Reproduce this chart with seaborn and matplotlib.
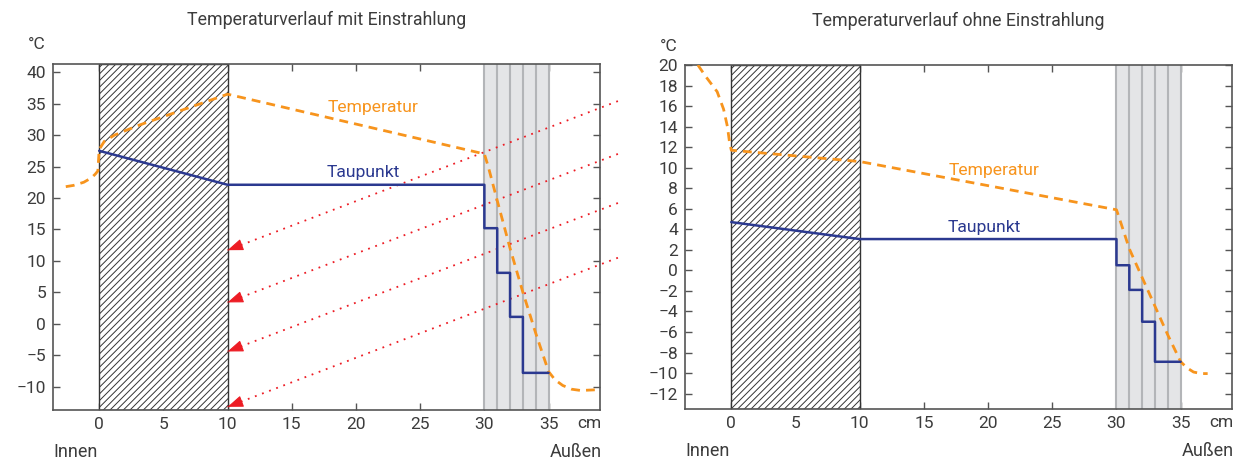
import matplotlib
matplotlib.use("Agg")
import matplotlib.pyplot as plt
import pandas as pd
import seaborn as sns

# ---- wall build-up (cm, measured from the inside face) ----
masonry_span = (0, 10)
layer_edges = [30, 31, 32, 33, 34, 35]
x_ticks = [0, 5, 10, 15, 20, 25, 30, 35]

# ---- panel 1: with solar radiation ----
temp_sun_x = [-2.6, -2.0, -1.2, -0.6, -0.3, -0.1, 0.0, 0.4, 1.2, 3.0, 10.0,
              30.0, 30.3, 31.0, 32.0, 33.0, 34.0, 35.0, 35.5, 36.1, 36.8, 37.5, 38.6]
temp_sun_y = [21.8, 22.0, 22.5, 23.2, 23.8, 24.3, 27.7, 29.0, 30.0, 31.5, 36.5,
              27.0, 25.0, 19.6, 12.0, 5.0, -1.5, -7.6, -8.9, -9.8, -10.4, -10.6, -10.5]
dew_sun_wall = [27.5, 22.1]
dew_sun_steps = [15.2, 8.1, 1.1, -7.8]
sun_ray_start_y = [35.4, 27.0, 19.2, 10.5]
sun_ray_end_y = [11.7, 3.4, -4.4, -13.2]
sun_ray_x = (40.4, 10.0)
y_ticks_sun = [-10, -5, 0, 5, 10, 15, 20, 25, 30, 35, 40]

# ---- panel 2: without solar radiation ----
temp_shade_x = [-2.6, -2.0, -1.1, -0.6, -0.3, -0.15, 0.0, 10.0, 30.0, 30.4, 31.0,
                32.0, 33.0, 34.0, 35.0, 35.5, 36.0, 36.6, 37.1]
temp_shade_y = [20.0, 18.9, 17.4, 15.7, 14.0, 12.6, 11.7, 10.6, 5.9, 4.4, 2.1,
                -0.7, -3.5, -6.3, -8.9, -9.5, -9.9, -10.05, -10.05]
dew_shade_wall = [4.7, 3.05]
dew_shade_steps = [0.5, -1.9, -5.0, -8.9]
y_ticks_shade = list(range(-12, 21, 2))

# step edges of the dew point inside the outer layers
dew_step_edges = [30, 31, 32, 33, 35]

ORANGE = "#f7941d"
BLUE = "#2b3990"
RED = "#ed1c24"
GREY_FILL = "#e4e5e7"
GREY_LINE = "#b3b5b8"
TEXT = "#3c3c3c"
SPINE = "#555555"

sns.set_theme(style="ticks")
plt.rcParams["font.family"] = ["Roboto", "DejaVu Sans"]
plt.rcParams["hatch.linewidth"] = 0.7
plt.rcParams["hatch.color"] = "#333333"


def dew_path(wall, steps):
    xs = [masonry_span[0], masonry_span[1], dew_step_edges[0]]
    ys = [wall[0], wall[1], wall[1]]
    for i, v in enumerate(steps):
        xs += [dew_step_edges[i], dew_step_edges[i + 1]]
        ys += [v, v]
    return pd.DataFrame({"x": xs, "y": ys})


def draw_panel(ax, title, temp_x, temp_y, dew_wall, dew_steps, ylim, yticks,
               temp_label_xy, dew_label_xy):
    # masonry (hatched) and outer layers (grey)
    ax.axvspan(*masonry_span, facecolor="white", edgecolor="#333333",
               hatch="/////", linewidth=1.0, zorder=1)
    ax.axvspan(layer_edges[0], layer_edges[-1], facecolor=GREY_FILL,
               edgecolor="none", zorder=1)
    for e in layer_edges:
        ax.axvline(e, color=GREY_LINE, lw=1.5, zorder=1.5)

    temp = pd.DataFrame({"x": temp_x, "y": temp_y})
    sns.lineplot(data=temp, x="x", y="y", ax=ax, color=ORANGE, lw=2.0,
                 linestyle=(0, (3.2, 2.2)), sort=False, estimator=None, zorder=4)
    sns.lineplot(data=dew_path(dew_wall, dew_steps), x="x", y="y", ax=ax,
                 color=BLUE, lw=1.8, sort=False, estimator=None, zorder=5)

    ax.text(*temp_label_xy, "Temperatur", color=ORANGE, fontsize=12.6,
            ha="center", va="center", zorder=6)
    ax.text(*dew_label_xy, "Taupunkt", color=BLUE, fontsize=12.6,
            ha="center", va="center", zorder=6)

    ax.set_xlim(-3.6, 39)
    ax.set_ylim(*ylim)
    ax.set_xticks(x_ticks)
    ax.set_yticks(yticks)
    ax.set_xlabel("")
    ax.set_ylabel("")
    ax.tick_params(direction="in", length=5, width=1, color=SPINE,
                   top=True, right=True, labelsize=12.5, labelcolor=TEXT, pad=5)
    for s in ax.spines.values():
        s.set_visible(True)
        s.set_color(SPINE)
        s.set_linewidth(1.2)

    ax.text(0.5, 1.127, title, transform=ax.transAxes, ha="center",
            va="center", fontsize=12.8, color=TEXT)
    ax.text(-0.03, 1.055, "°C", transform=ax.transAxes, ha="center",
            va="center", fontsize=12.5, color=TEXT)
    ax.text(38.2, -0.038, "cm", transform=ax.get_xaxis_transform(),
            ha="center", va="center", fontsize=12.5, color=TEXT)
    ax.text(0.0, -0.121, "Innen", transform=ax.transAxes, ha="left",
            va="center", fontsize=13, color=TEXT)
    ax.text(1.004, -0.121, "Außen", transform=ax.transAxes, ha="right",
            va="center", fontsize=13, color=TEXT)


fig = plt.figure(figsize=(12.37, 4.62), dpi=100)
ax1 = fig.add_axes([0.0428, 0.1126, 0.4422, 0.7489])
ax2 = fig.add_axes([0.5538, 0.1147, 0.4422, 0.7446])

draw_panel(ax1, "Temperaturverlauf mit Einstrahlung", temp_sun_x, temp_sun_y,
           dew_sun_wall, dew_sun_steps, (-13.7, 41.3), y_ticks_sun,
           (21.3, 34.4), (20.6, 24.1))
draw_panel(ax2, "Temperaturverlauf ohne Einstrahlung", temp_shade_x, temp_shade_y,
           dew_shade_wall, dew_shade_steps, (-13.5, 20.0), y_ticks_shade,
           (20.5, 9.7), (19.7, 4.2))

# incoming radiation: dotted rays ending in arrow heads at the masonry face
for y0, y1 in zip(sun_ray_start_y, sun_ray_end_y):
    ray = pd.DataFrame({"x": list(sun_ray_x), "y": [y0, y1]})
    sns.lineplot(data=ray, x="x", y="y", ax=ax1, color=RED, lw=1.3,
                 linestyle=(0, (1, 3.2)), sort=False, estimator=None,
                 clip_on=False, zorder=3)
    slope = (y0 - y1) / (sun_ray_x[0] - sun_ray_x[1])
    ax1.annotate("", xy=(sun_ray_x[1], y1),
                 xytext=(sun_ray_x[1] + 0.9, y1 + 0.9 * slope),
                 arrowprops=dict(arrowstyle="-|>,head_length=0.8,head_width=0.3",
                                 color=RED, lw=0.8, shrinkA=0, shrinkB=0,
                                 mutation_scale=12),
                 annotation_clip=False, zorder=6)
ax1.set_xlabel("")
ax1.set_ylabel("")

fig.savefig("out.png", dpi=100)
